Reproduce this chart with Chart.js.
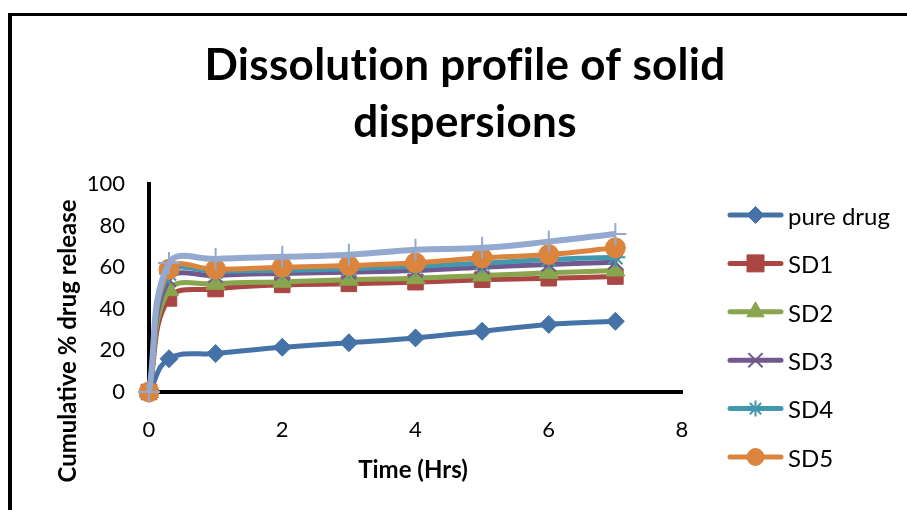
<!DOCTYPE html>
<html><head><meta charset="utf-8">
<script src="https://cdn.jsdelivr.net/npm/chart.js@4"></script>
<style>
html,body{margin:0;padding:0;background:#fff;}
#wrap{position:relative;width:907px;height:510px;overflow:hidden;background:#fff;}
#frame{position:absolute;left:8px;top:13px;width:960px;height:560px;border-left:4px solid #000;border-top:3px solid #000;}
canvas{position:absolute;left:0;top:0;}
</style></head><body>
<div id="wrap"><div id="frame"></div><canvas id="c" width="907" height="510"></canvas></div>
<script>
// ---- data ----
const times    = [0, 0.3, 1, 2, 3, 4, 5, 6, 7];
const pureDrug = [0, 16, 18.5, 21.5, 23.7, 26, 29.2, 32.5, 34];
const sd1      = [0, 45, 49.5, 51.5, 52, 52.8, 54, 54.7, 55.5];
const sd2      = [0, 49, 52, 53, 54, 54.7, 56, 57.3, 58.4];
const sd3      = [0, 54, 56, 57, 57.6, 58.4, 60, 61.3, 62.4];
const sd4      = [0, 57, 58, 58.5, 59.2, 60.5, 61.9, 63.7, 64.8];
const sd5      = [0, 59, 59, 60, 60.8, 62.1, 64.5, 66.1, 69.3];
const sd6      = [0, 62, 64, 65, 66, 68.4, 69.3, 72.3, 76];
const seriesLabels = ['pure drug', 'SD1', 'SD2', 'SD3', 'SD4', 'SD5', 'SD6'];
const legendLabels = ['pure drug', 'SD1', 'SD2', 'SD3', 'SD4', 'SD5'];
const xTickValues = [0, 2, 4, 6, 8];
const yTickValues = [0, 20, 40, 60, 80, 100];
const chartTitle = ['Dissolution profile of solid', 'dispersions'];
const xTitle = 'Time (Hrs)';
const yTitle = 'Cumulative % drug release';

// ---- styles ----
const FONT = 'Lato, "Open Sans", "DejaVu Sans", sans-serif';
const styles = [
  {color:'#4572A7', style:'rectRot',  r:9,  bw:1, lr:8.5},
  {color:'#AA4643', style:'rect',     r:11, bw:1, lr:12},
  {color:'#89A54E', style:'triangle', r:11, bw:1, lr:10},
  {color:'#71588F', style:'crossRot', r:10, bw:2, lr:10},
  {color:'#4198AF', style:'star',     r:10, bw:2, lr:8},
  {color:'#DB843D', style:'circle',   r:10, bw:1, lr:8.5},
  {color:'#93A9CF', style:'cross',    r:11, bw:2, lr:10}
];
const allSeries = [pureDrug, sd1, sd2, sd3, sd4, sd5, sd6];

const datasets = allSeries.map((vals, i) => ({
  label: seriesLabels[i],
  data: times.map((t, j) => ({x: t, y: vals[j]})),
  borderColor: styles[i].color,
  backgroundColor: styles[i].color,
  pointBackgroundColor: styles[i].color,
  pointBorderColor: styles[i].color,
  pointBorderWidth: styles[i].bw,
  pointStyle: styles[i].style,
  pointRadius: styles[i].r,
  borderWidth: i === 6 ? 6 : 5,
  tension: 0.4,
  clip: false,
  order: allSeries.length - i
}));

function drawMarker(ctx, st, x, y, r) {
  ctx.save();
  ctx.fillStyle = st.color; ctx.strokeStyle = st.color; ctx.lineWidth = st.bw;
  if (Chart.helpers && Chart.helpers.drawPoint) {
    Chart.helpers.drawPoint(ctx, {pointStyle: st.style, radius: r, borderWidth: st.bw, rotation: 0}, x, y);
  } else {
    ctx.beginPath(); ctx.arc(x, y, r, 0, Math.PI * 2); ctx.fill();
  }
  ctx.restore();
}

const decor = {
  id: 'decor',
  afterDraw(chart) {
    const ctx = chart.ctx;
    ctx.save();
    ctx.fillStyle = '#000';
    if ('letterSpacing' in ctx) ctx.letterSpacing = '0.3px';
    // chart title
    ctx.font = 'bold 44px ' + FONT;
    ctx.textAlign = 'center'; ctx.textBaseline = 'middle';
    chartTitle.forEach((t, i) => ctx.fillText(t, 465, 66 + i * 57));
    if ('letterSpacing' in ctx) ctx.letterSpacing = '0px';
    // axis titles
    ctx.font = 'bold 24px ' + FONT;
    ctx.fillText(xTitle, 413, 470);
    ctx.save(); ctx.translate(68, 341); ctx.rotate(-Math.PI / 2);
    ctx.fillText(yTitle, 0, 0); ctx.restore();
    // legend
    ctx.font = '24px ' + FONT; ctx.textAlign = 'left';
    legendLabels.forEach((lab, i) => {
      const y = 215 + i * 48.4;
      const st = styles[i];
      ctx.save();
      ctx.strokeStyle = st.color; ctx.lineWidth = 5; ctx.lineCap = 'round';
      ctx.beginPath(); ctx.moveTo(730, y); ctx.lineTo(781, y); ctx.stroke();
      ctx.restore();
      drawMarker(ctx, st, 755.5, y, st.lr);
      ctx.fillStyle = '#000';
      ctx.fillText(lab, 788, y + 2);
    });
    ctx.restore();
  }
};

new Chart(document.getElementById('c'), {
  type: 'line',
  data: {datasets},
  options: {
    responsive: false,
    animation: false,
    devicePixelRatio: 1,
    layout: {padding: {top: 184, left: 10, right: 225, bottom: 0}},
    plugins: {legend: {display: false}, title: {display: false}, tooltip: {enabled: false}},
    scales: {
      x: {
        type: 'linear', min: 0, max: 8,
        afterBuildTicks(s) { s.ticks = xTickValues.map(v => ({value: v})); },
        afterFit(s) { s.height = 118; },
        grid: {display: false, drawTicks: false},
        border: {display: true, color: '#000', width: 4},
        ticks: {color: '#000', font: {family: FONT, size: 22}, padding: 25, maxRotation: 0}
      },
      y: {
        min: 0, max: 100,
        afterBuildTicks(s) { s.ticks = yTickValues.map(v => ({value: v})); },
        afterFit(s) { s.width = 139; },
        grid: {display: false, drawTicks: false},
        border: {display: true, color: '#000', width: 4},
        ticks: {color: '#000', font: {family: FONT, size: 22}, padding: 24}
      }
    }
  },
  plugins: [decor]
});
</script>
</body></html>
